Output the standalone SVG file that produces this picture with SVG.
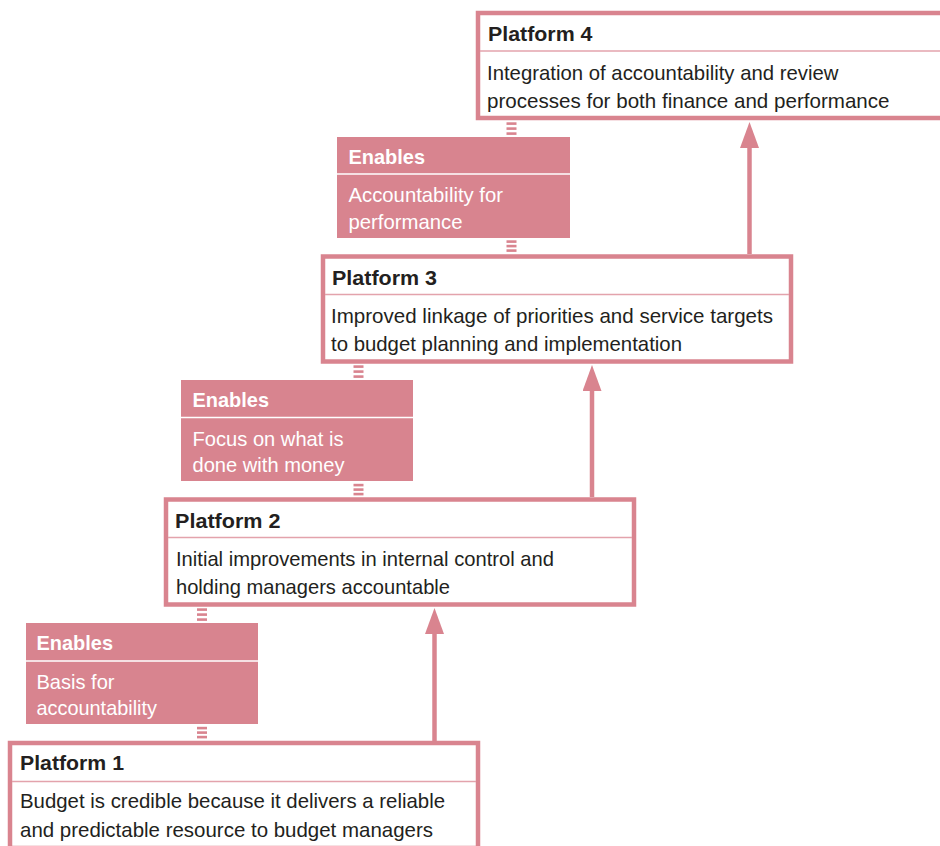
<svg xmlns="http://www.w3.org/2000/svg" width="940" height="846" viewBox="0 0 940 846">
<defs>
<style>
.pbox{fill:#ffffff;stroke:#d9848f;stroke-width:4.5}
.pdiv{stroke:#e3a3ac;stroke-width:1.5}
.ebox{fill:#d8848f}
.ediv{stroke:#ffffff;stroke-width:1.5}
.mark{fill:#d9848f}
.title{font-family:"Liberation Sans",Arial,sans-serif;font-weight:bold;font-size:21px;fill:#231f20}
.body{font-family:"Liberation Sans",Arial,sans-serif;font-size:21px;fill:#231f20}
.etitle{font-family:"Liberation Sans",Arial,sans-serif;font-weight:bold;font-size:20.5px;fill:#ffffff}
.ebody{font-family:"Liberation Sans",Arial,sans-serif;font-size:21px;fill:#ffffff}
.arrow{stroke:#d9848f;stroke-width:4.5;fill:none}
</style>
<marker id="ah" markerUnits="userSpaceOnUse" markerWidth="26" markerHeight="19" refX="6" refY="9.5" orient="auto">
<path d="M0,0 L26,9.5 L0,19 z" fill="#d9848f"/>
</marker>
</defs>
<rect width="940" height="846" fill="#ffffff"/>

<g id="connectors">
<line class="arrow" x1="749.5" y1="254" x2="749.5" y2="142" marker-end="url(#ah)"/>
<line class="arrow" x1="592" y1="497" x2="592" y2="385" marker-end="url(#ah)"/>
<line class="arrow" x1="434.5" y1="741" x2="434.5" y2="628" marker-end="url(#ah)"/>
<g id="marks">
<rect class="mark" x="506.5" y="122.3" width="10" height="2.6"/>
<rect class="mark" x="506.5" y="127.3" width="10" height="2.6"/>
<rect class="mark" x="506.5" y="132.3" width="10" height="2.6"/>
<rect class="mark" x="506.5" y="240.3" width="10" height="2.6"/>
<rect class="mark" x="506.5" y="244.8" width="10" height="2.6"/>
<rect class="mark" x="506.5" y="249.3" width="10" height="2.6"/>
<rect class="mark" x="353.5" y="365.3" width="10" height="2.6"/>
<rect class="mark" x="353.5" y="370.3" width="10" height="2.6"/>
<rect class="mark" x="353.5" y="375.3" width="10" height="2.6"/>
<rect class="mark" x="353.5" y="483.8" width="10" height="2.6"/>
<rect class="mark" x="353.5" y="488.3" width="10" height="2.6"/>
<rect class="mark" x="353.5" y="492.8" width="10" height="2.6"/>
<rect class="mark" x="197" y="608.3" width="10" height="2.6"/>
<rect class="mark" x="197" y="613.3" width="10" height="2.6"/>
<rect class="mark" x="197" y="618.3" width="10" height="2.6"/>
<rect class="mark" x="197" y="726.8" width="10" height="2.6"/>
<rect class="mark" x="197" y="731.3" width="10" height="2.6"/>
<rect class="mark" x="197" y="735.8" width="10" height="2.6"/>
</g>
</g>

<g id="platform4">
<rect class="pbox" x="478" y="13" width="468" height="105"/>
<line class="pdiv" x1="480" y1="51" x2="946" y2="51"/>
<text class="title" x="488" y="41" textLength="104.5" lengthAdjust="spacingAndGlyphs">Platform 4</text>
<text class="body" x="487" y="79.5" textLength="351.5" lengthAdjust="spacingAndGlyphs">Integration of accountability and review</text>
<text class="body" x="487" y="108" textLength="402.5" lengthAdjust="spacingAndGlyphs">processes for both finance and performance</text>
</g>

<g id="enables3">
<rect class="ebox" x="337" y="137" width="233" height="101"/>
<line class="ediv" x1="337" y1="174" x2="570" y2="174"/>
<text class="etitle" x="348.5" y="163.5" textLength="76.5" lengthAdjust="spacingAndGlyphs">Enables</text>
<text class="ebody" x="348.5" y="202" textLength="154.5" lengthAdjust="spacingAndGlyphs">Accountability for</text>
<text class="ebody" x="348.5" y="228.5" textLength="114" lengthAdjust="spacingAndGlyphs">performance</text>
</g>

<g id="platform3">
<rect class="pbox" x="323" y="256.5" width="468" height="105"/>
<line class="pdiv" x1="325" y1="294.5" x2="789" y2="294.5"/>
<text class="title" x="332" y="284.5" textLength="105" lengthAdjust="spacingAndGlyphs">Platform 3</text>
<text class="body" x="331" y="322.5" textLength="442" lengthAdjust="spacingAndGlyphs">Improved linkage of priorities and service targets</text>
<text class="body" x="331" y="351" textLength="351" lengthAdjust="spacingAndGlyphs">to budget planning and implementation</text>
</g>

<g id="enables2">
<rect class="ebox" x="181" y="380" width="232" height="101"/>
<line class="ediv" x1="181" y1="417.5" x2="413" y2="417.5"/>
<text class="etitle" x="192.5" y="407" textLength="76.5" lengthAdjust="spacingAndGlyphs">Enables</text>
<text class="ebody" x="192.5" y="445.5" textLength="151" lengthAdjust="spacingAndGlyphs">Focus on what is</text>
<text class="ebody" x="192.5" y="472" textLength="152" lengthAdjust="spacingAndGlyphs">done with money</text>
</g>

<g id="platform2">
<rect class="pbox" x="166" y="499.5" width="468" height="105"/>
<line class="pdiv" x1="168" y1="537.5" x2="632" y2="537.5"/>
<text class="title" x="175" y="527.5" textLength="105.5" lengthAdjust="spacingAndGlyphs">Platform 2</text>
<text class="body" x="176" y="565.5" textLength="378" lengthAdjust="spacingAndGlyphs">Initial improvements in internal control and</text>
<text class="body" x="176" y="594" textLength="274" lengthAdjust="spacingAndGlyphs">holding managers accountable</text>
</g>

<g id="enables1">
<rect class="ebox" x="26" y="623" width="232" height="101"/>
<line class="ediv" x1="26" y1="661" x2="258" y2="661"/>
<text class="etitle" x="36.5" y="650" textLength="76.5" lengthAdjust="spacingAndGlyphs">Enables</text>
<text class="ebody" x="36.5" y="688.5" textLength="78" lengthAdjust="spacingAndGlyphs">Basis for</text>
<text class="ebody" x="36.5" y="715" textLength="120.5" lengthAdjust="spacingAndGlyphs">accountability</text>
</g>

<g id="platform1">
<rect class="pbox" x="10" y="743" width="468" height="105"/>
<line class="pdiv" x1="12" y1="781.5" x2="476" y2="781.5"/>
<text class="title" x="20" y="770" textLength="104" lengthAdjust="spacingAndGlyphs">Platform 1</text>
<text class="body" x="20" y="808" textLength="425" lengthAdjust="spacingAndGlyphs">Budget is credible because it delivers a reliable</text>
<text class="body" x="20" y="837" textLength="413" lengthAdjust="spacingAndGlyphs">and predictable resource to budget managers</text>
</g>
</svg>
